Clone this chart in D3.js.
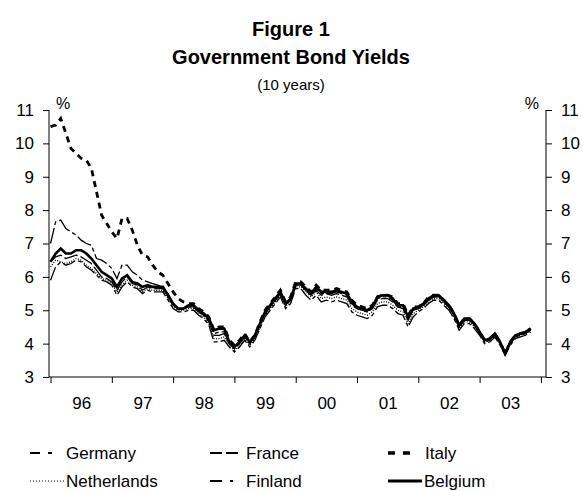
<!DOCTYPE html>
<html>
<head>
<meta charset="utf-8">
<script src="https://cdn.jsdelivr.net/npm/d3@7"></script>
<style>
  body { margin: 0; background: #fff; }
  svg { font-family: "Liberation Sans", Arial, sans-serif; }
</style>
</head>
<body>
<svg id="chart" width="583" height="491"></svg>
<script>
// monthly yields, Jan 1996 .. Nov 2003 (one row per year)
var germany = [
  5.90,6.30,6.45,6.35,6.40,6.50,6.45,6.30,6.20,6.05,5.90,5.85,
  5.75,5.45,5.70,5.85,5.70,5.65,5.50,5.60,5.55,5.55,5.55,5.30,
  5.05,4.95,4.95,5.00,5.00,4.85,4.75,4.55,4.05,4.05,4.10,3.90,
  3.75,3.90,4.10,3.90,4.10,4.45,4.80,5.00,5.20,5.40,5.05,5.20,
  5.65,5.65,5.45,5.30,5.45,5.25,5.30,5.25,5.30,5.25,5.20,4.95,
  4.85,4.80,4.75,4.85,5.10,5.15,5.15,5.05,4.90,4.85,4.50,4.80,
  4.95,5.05,5.20,5.30,5.30,5.15,5.00,4.75,4.40,4.60,4.60,4.45,
  4.25,4.00,4.05,4.20,3.95,3.65,3.95,4.15,4.20,4.25,4.35
];
var netherlands = [
  6.30,6.50,6.45,6.40,6.45,6.55,6.50,6.35,6.25,6.10,5.95,5.90,
  5.80,5.55,5.75,5.90,5.75,5.70,5.55,5.65,5.60,5.60,5.60,5.35,
  5.10,5.00,5.00,5.05,5.05,4.90,4.80,4.60,4.15,4.15,4.20,3.95,
  3.80,3.95,4.15,3.95,4.15,4.50,4.85,5.05,5.25,5.45,5.10,5.25,
  5.70,5.70,5.55,5.40,5.55,5.35,5.40,5.35,5.40,5.35,5.30,5.05,
  4.95,4.90,4.85,4.95,5.20,5.25,5.25,5.15,5.00,4.95,4.60,4.90,
  5.00,5.10,5.25,5.35,5.35,5.20,5.05,4.80,4.45,4.65,4.65,4.50,
  4.30,4.05,4.10,4.25,4.00,3.70,4.00,4.20,4.25,4.30,4.40
];
var france = [
  6.45,6.60,6.65,6.55,6.60,6.65,6.60,6.50,6.40,6.20,6.00,5.95,
  5.85,5.60,5.85,6.00,5.80,5.75,5.60,5.70,5.65,5.65,5.65,5.40,
  5.15,5.05,5.05,5.10,5.10,4.95,4.85,4.65,4.25,4.25,4.30,4.00,
  3.85,4.00,4.20,4.00,4.20,4.55,4.90,5.10,5.30,5.50,5.15,5.30,
  5.75,5.75,5.60,5.45,5.60,5.45,5.50,5.45,5.50,5.45,5.40,5.15,
  5.05,5.00,4.95,5.05,5.30,5.35,5.35,5.25,5.10,5.05,4.70,5.00,
  5.05,5.15,5.30,5.40,5.40,5.25,5.10,4.85,4.50,4.70,4.70,4.55,
  4.35,4.10,4.15,4.30,4.05,3.70,4.05,4.25,4.30,4.35,4.45
];
var belgium = [
  6.45,6.70,6.85,6.70,6.70,6.80,6.80,6.70,6.55,6.35,6.15,6.05,
  5.95,5.70,5.95,6.05,5.85,5.80,5.70,5.75,5.70,5.70,5.70,5.45,
  5.20,5.05,5.05,5.15,5.15,5.00,4.90,4.75,4.40,4.45,4.45,4.05,
  3.90,4.05,4.25,4.05,4.25,4.60,4.95,5.15,5.35,5.55,5.20,5.35,
  5.80,5.80,5.65,5.50,5.70,5.55,5.55,5.55,5.60,5.55,5.50,5.25,
  5.10,5.05,5.00,5.10,5.40,5.45,5.45,5.35,5.15,5.15,4.80,5.05,
  5.10,5.20,5.35,5.45,5.45,5.30,5.15,4.90,4.55,4.75,4.75,4.60,
  4.35,4.10,4.15,4.30,4.05,3.70,4.05,4.25,4.30,4.35,4.45
];
var finland = [
  7.00,7.65,7.70,7.45,7.35,7.25,7.10,7.00,6.95,6.55,6.50,6.40,
  6.25,5.95,6.35,6.35,6.15,6.05,5.90,5.85,5.80,5.75,5.70,5.50,
  5.20,5.05,5.05,5.10,5.10,4.95,4.85,4.70,4.30,4.35,4.35,4.00,
  3.85,4.00,4.20,4.00,4.20,4.55,4.90,5.10,5.30,5.50,5.15,5.30,
  5.75,5.75,5.60,5.45,5.65,5.50,5.50,5.50,5.55,5.50,5.45,5.20,
  5.05,5.00,4.95,5.05,5.35,5.40,5.40,5.30,5.10,5.10,4.75,5.00,
  5.05,5.15,5.30,5.40,5.40,5.25,5.10,4.85,4.50,4.70,4.70,4.55,
  4.30,4.05,4.10,4.25,4.00,3.70,4.00,4.20,4.25,4.30,4.40
];
var italy = [
  10.50,10.55,10.75,10.30,9.85,9.70,9.55,9.50,9.25,8.55,7.85,7.60,
  7.35,7.15,7.75,7.75,7.40,6.95,6.65,6.60,6.35,6.15,6.05,5.80,
  5.55,5.35,5.25,5.20,5.20,5.05,4.95,4.80,4.40,4.50,4.50,4.10,
  3.95,4.10,4.30,4.05,4.25,4.65,5.00,5.20,5.40,5.60,5.25,5.40,
  5.85,5.85,5.70,5.55,5.75,5.60,5.60,5.60,5.65,5.60,5.55,5.30,
  5.15,5.10,5.05,5.15,5.40,5.45,5.45,5.40,5.20,5.20,4.85,5.10,
  5.10,5.20,5.40,5.45,5.45,5.30,5.15,4.90,4.55,4.75,4.75,4.60,
  4.35,4.10,4.15,4.30,4.05,3.70,4.05,4.25,4.30,4.35,4.45
];
var yearLabels = ["96","97","98","99","00","01","02","03"];
var yTicks = [3,4,5,6,7,8,9,10,11];

// line styles: chart dash, legend dash, legend sample length
var series = [
  {name: "Germany", values: germany, dash: "14,3,4,3", legDash: "10,8,4,8", legLen: 26, width: 1.3},
  {name: "France", values: france, dash: "14,3", legDash: "12,4", legLen: 30, width: 1.3},
  {name: "Italy", values: italy, dash: "6,5", legDash: "7,8", legLen: 22, width: 2.8},
  {name: "Netherlands", values: netherlands, dash: "1,1.5", legDash: "1,2", legLen: 34, width: 1.3},
  {name: "Finland", values: finland, dash: "16,3,4,3", legDash: "12,8,3,8", legLen: 24, width: 1.3},
  {name: "Belgium", values: belgium, dash: null, legDash: null, legLen: 34, width: 2.6}
];

var svg = d3.select("#chart");

// titles
svg.append("text").attr("x", 291).attr("y", 36).attr("text-anchor", "middle")
  .style("font-size", "20px").style("font-weight", "bold").text("Figure 1");
svg.append("text").attr("x", 291).attr("y", 64).attr("text-anchor", "middle")
  .style("font-size", "20px").style("font-weight", "bold").text("Government Bond Yields");
svg.append("text").attr("x", 291).attr("y", 90).attr("text-anchor", "middle")
  .style("font-size", "15px").text("(10 years)");

var x = d3.scaleLinear().domain([-0.3, 97]).range([49, 546]);
var y = d3.scaleLinear().domain([3, 11]).range([377, 110]);

var left = svg.append("g").attr("transform", "translate(49,0)")
  .call(d3.axisLeft(y).tickValues(yTicks).tickSize(6).tickPadding(9).tickFormat(d3.format("d")));
var right = svg.append("g").attr("transform", "translate(546,0)")
  .call(d3.axisRight(y).tickValues(yTicks).tickSize(6).tickPadding(9).tickFormat(d3.format("d")));
var bottom = svg.append("g").attr("transform", "translate(0,377)")
  .call(d3.axisBottom(x).tickValues(d3.range(0, 97, 12)).tickSize(6).tickFormat(""));
var labels = svg.append("g").attr("transform", "translate(0,377)")
  .call(d3.axisBottom(x).tickValues(d3.range(6, 96, 12)).tickSize(0).tickPadding(20)
    .tickFormat(function(d, i) { return yearLabels[i]; }));
labels.select(".domain").remove();

[left, right, bottom].forEach(function(g) {
  g.selectAll("path.domain").attr("d", null);
});
// plain axis lines without end caps
svg.append("line").attr("x1", 49).attr("x2", 49).attr("y1", y(11)).attr("y2", y(3)).attr("stroke", "#000");
svg.append("line").attr("x1", 546).attr("x2", 546).attr("y1", y(11)).attr("y2", y(3)).attr("stroke", "#000");
svg.append("line").attr("x1", 49).attr("x2", 546).attr("y1", y(3)).attr("y2", y(3)).attr("stroke", "#000");

svg.selectAll(".tick text").style("font-size", "17px").attr("fill", "#000")
  .style("font-family", "Liberation Sans, Arial, sans-serif");
svg.selectAll(".tick line").attr("stroke", "#000");

svg.append("text").attr("x", 56).attr("y", 109).style("font-size", "16px").text("%");
svg.append("text").attr("x", 539).attr("y", 109).attr("text-anchor", "end").style("font-size", "16px").text("%");

var line = d3.line().x(function(d, i) { return x(i); }).y(function(d) { return y(d); });

svg.append("g").selectAll("path").data(series).enter().append("path")
  .attr("d", function(s) { return line(s.values); })
  .attr("fill", "none").attr("stroke", "#000")
  .attr("stroke-width", function(s) { return s.width; })
  .attr("stroke-dasharray", function(s) { return s.dash; });

// legend, three columns by two rows
var legX = [30, 210, 388];
var legY = [453, 481];
var legend = svg.append("g").selectAll("g").data(series).enter().append("g")
  .attr("transform", function(s, i) { return "translate(" + legX[i % 3] + "," + legY[Math.floor(i / 3)] + ")"; });
legend.append("line").attr("x1", 0).attr("x2", function(s) { return s.legLen; })
  .attr("y1", 0).attr("y2", 0).attr("stroke", "#000")
  .attr("stroke-width", function(s) { return s.name == "Netherlands" ? 1 : s.width + 0.6; })
  .attr("stroke-dasharray", function(s) { return s.legDash; });
legend.append("text").attr("x", function(s) { return s.name == "Italy" ? 37 : 36; }).attr("y", 6)
  .style("font-size", "17px").text(function(s) { return s.name; });
</script>
</body>
</html>
